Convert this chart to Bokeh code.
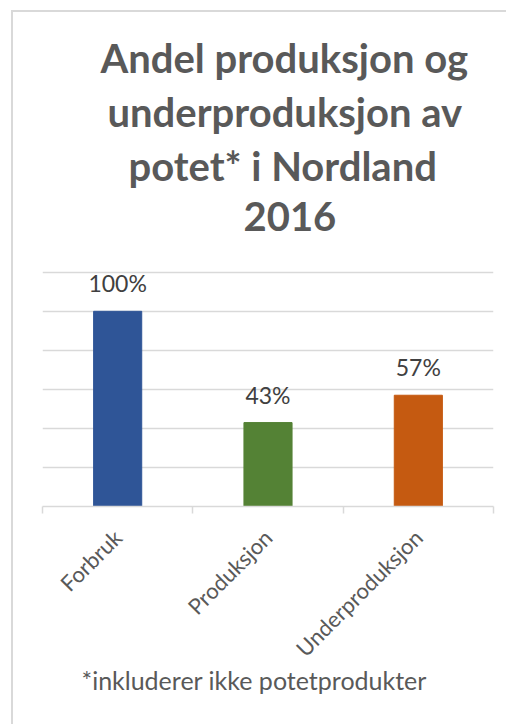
from math import pi
from bokeh.plotting import figure
from bokeh.models import (Range1d, FixedTicker, LinearAxis, LabelSet,
                          ColumnDataSource, Grid, Title)
from bokeh.core.properties import value
from bokeh.embed import file_html
from bokeh.resources import INLINE

# ---- data ----
categories = ["Forbruk", "Produksjon", "Underproduksjon"]
values = [1.00, 0.43, 0.57]
value_labels = ["100%", "43%", "57%"]
bar_colors = ["#2F5597", "#548235", "#C55A11"]
title_lines = ["Andel produksjon og", "underproduksjon av", "potet* i Nordland", "2016"]
footnote = "*inkluderer ikke potetprodukter"
grid_ticks = [0, 0.2, 0.4, 0.6, 0.8, 1.0, 1.2]

# ---- derived positions ----
x_pos = [i + 0.5 for i in range(len(categories))]
boundaries = list(range(len(categories) + 1))

src = ColumnDataSource(dict(x=x_pos, top=values, color=bar_colors, label=value_labels))

FONT = "Lato"
GRAY = "#595959"
LIGHT = "#d9d9d9"

p = figure(width=495, height=714, output_backend="svg", toolbar_location=None,
           x_range=Range1d(0, len(categories)), y_range=Range1d(0, 1.25),
           x_axis_type=None, y_axis_type=None,
           min_border_left=29, min_border_right=15,
           min_border_top=250, min_border_bottom=220)
p.outline_line_color = None
p.background_fill_color = "white"
p.border_fill_color = "white"
p.styles = {"margin-left": "11px", "margin-top": "10px",
            "border-left": "2px solid #d9d9d9", "border-top": "2px solid #d9d9d9"}

p.add_layout(Grid(dimension=1, ticker=FixedTicker(ticks=grid_ticks),
                  grid_line_color=LIGHT, grid_line_width=1.5))

xaxis = LinearAxis(ticker=FixedTicker(ticks=x_pos, minor_ticks=boundaries),
                   major_label_overrides={x: c for x, c in zip(x_pos, categories)})
xaxis.axis_line_color = LIGHT
xaxis.axis_line_width = 1.5
xaxis.major_tick_line_color = None
xaxis.major_tick_out = 0
xaxis.major_tick_in = 0
xaxis.minor_tick_line_color = LIGHT
xaxis.minor_tick_line_width = 1.5
xaxis.minor_tick_out = 7
xaxis.minor_tick_in = 0
xaxis.major_label_orientation = pi / 4
xaxis.major_label_text_font = FONT
xaxis.major_label_text_font_size = "22px"
xaxis.major_label_text_color = GRAY
xaxis.major_label_standoff = 20
p.add_layout(xaxis, "below")

p.vbar(x="x", top="top", width=0.32, color="color", source=src)

p.add_layout(LabelSet(x="x", y="top", text="label", source=src, y_offset=19,
                      text_align="center", text_baseline="alphabetic",
                      text_font=value(FONT), text_font_size=value("23px"),
                      text_color="#404040"))

# blank spacer between the plot and the title block
p.add_layout(Title(text=" ", text_font_size="10px", standoff=11), "above")

# title lines, nearest to the plot first
title_left = [58, 65, 86, 201]
for i in reversed(range(len(title_lines))):
    p.add_layout(Title(text=title_lines[i], align="left", offset=title_left[i],
                       text_font=FONT, text_font_size="40px", text_font_style="bold",
                       text_color=GRAY, standoff=4 if i < 3 else 16), "above")

p.add_layout(Title(text=footnote, align="left", offset=39, text_font=FONT,
                   text_font_size="25px", text_font_style="normal",
                   text_color=GRAY, standoff=-24), "below")

open("out.html", "w").write(file_html(p, INLINE))
